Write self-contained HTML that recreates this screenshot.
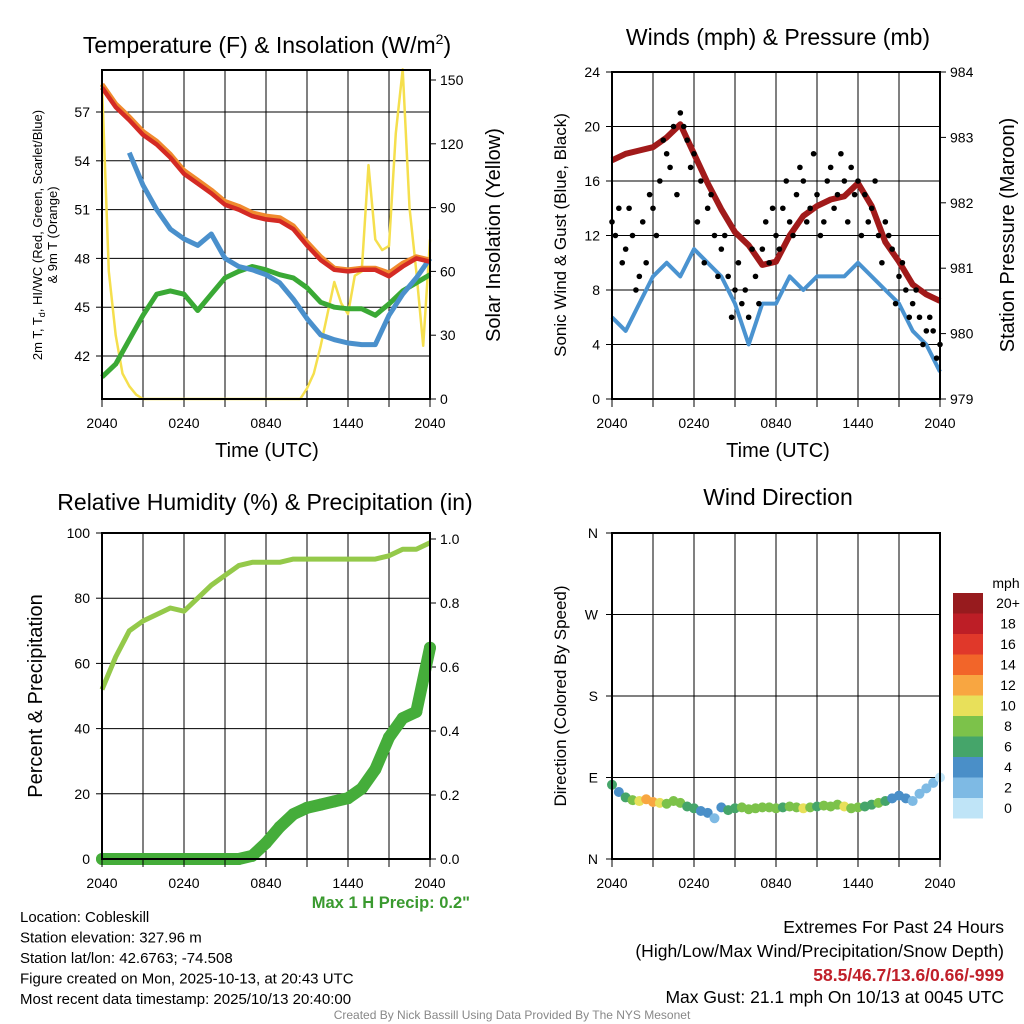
<!DOCTYPE html>
<html><head><meta charset="utf-8"><style>
html,body{margin:0;padding:0;background:#fff;}
svg{display:block;font-family:"Liberation Sans",sans-serif;}
</style></head><body>
<svg id="s" width="1024" height="1024" viewBox="0 0 1024 1024"></svg>
<script>
// ---------- DATA ----------
const hours = [0,1,2,3,4,5,6,7,8,9,10,11,12,13,14,15,16,17,18,19,20,21,22,23,24];
const halfHours = [0,0.5,1,1.5,2,2.5,3,3.5,4,4.5,5,5.5,6,6.5,7,7.5,8,8.5,9,9.5,10,10.5,11,11.5,12,12.5,13,13.5,14,14.5,15,15.5,16,16.5,17,17.5,18,18.5,19,19.5,20,20.5,21,21.5,22,22.5,23,23.5,24];
const timeTicks = ["2040","0240","0840","1440","2040"];
const tempTicks = [42,45,48,51,54,57];
const solarTicks = [0,30,60,90,120,150];
const tempRed = [58.5,57.3,56.5,55.6,55.0,54.2,53.2,52.6,52.0,51.3,51.0,50.6,50.4,50.3,49.8,48.8,47.9,47.3,47.2,47.3,47.3,46.9,47.5,48.0,47.8];
const tempOrange = [58.7,57.5,56.7,55.8,55.2,54.4,53.4,52.8,52.2,51.5,51.2,50.8,50.6,50.5,50.0,49.0,48.1,47.4,47.3,47.4,47.4,47.1,47.7,48.1,47.9];
const hiwcHours = [2,3,4,5,6,7,8,9,10,11,12,13,14,15,16,17,18,19,20,21,22,23,24];
const hiwcBlue = [54.5,52.5,51.0,49.8,49.2,48.8,49.5,48.0,47.5,47.3,47.0,46.5,45.5,44.3,43.3,43.0,42.8,42.7,42.7,44.5,45.8,46.8,48.0];
const dewGreen = [40.7,41.5,43.0,44.5,45.8,46.0,45.8,44.8,45.8,46.8,47.2,47.5,47.3,47.0,46.8,46.2,45.3,45.0,44.9,44.9,44.5,45.2,46.0,46.5,47.0];
const solar = [148,60,30,12,6,2,0,0,0,0,0,0,0,0,0,0,0,0,0,0,0,0,0,0,0,0,0,0,0,0,5,12,25,40,55,45,40,58,60,110,75,70,72,125,155,90,60,25,75];

const windTicks = [0,4,8,12,16,20,24];
const presTicks = [979,980,981,982,983,984];
const windBlue = [6,5,7,9,10,9,11,10,9,7,4,7,7,9,8,9,9,9,10,9,8,7,5,4,2];
const pressure = [982.65,982.75,982.8,982.85,983.0,983.2,982.75,982.3,981.9,981.55,981.35,981.05,981.1,981.5,981.8,981.95,982.05,982.1,982.3,981.95,981.4,981.1,980.75,980.6,980.5];
const gustA = [13,14,11,12,9,10,14,16,18,20,21,19,18,16,14,12,11,9,8,7,6,9,11,10,12,14,13,15,16,14,15,13,17,15,16,17,16,15,14,12,13,11,9,8,7,6,5,5,4];
const gustB = [12,10,14,8,13,15,12,19,17,15,20,17,13,10,15,9,12,6,10,8,11,7,13,14,11,16,12,17,13,18,12,16,14,18,13,15,12,13,16,10,12,7,10,6,8,4,6,3];

const rhTicks = [0,20,40,60,80,100];
const precipTicks = [0.0,0.2,0.4,0.6,0.8,1.0];
const rh = [52,62,70,73,75,77,76,80,84,87,90,91,91,91,92,92,92,92,92,92,92,93,95,95,97];
const precip = [0,0,0,0,0,0,0,0,0,0,0,0.01,0.05,0.10,0.14,0.16,0.17,0.18,0.19,0.22,0.28,0.38,0.44,0.46,0.66];

const dirLabels = ["N","E","S","W","N"];
const windDir = [82,74,68,65,64,66,63,62,61,64,62,58,56,53,51,45,57,54,56,57,55,56,57,57,56,57,58,57,56,57,58,59,58,60,58,56,57,58,60,62,64,67,70,67,64,72,78,84,90];
const windSpd = [6,4,6,8,10,12,13,10,9,8,8,7,6,5,4,3,5,6,7,8,9,8,8,9,8,7,8,9,10,8,7,8,8,9,10,9,8,7,6,8,6,4,5,4,3,2,3,2,1];
const legendLabels = ["20+","18","16","14","12","10","8","6","4","2","0"];
const legendColors = ["#971b1e","#bd1e26","#e0382a","#f26529","#f8a641","#e8e05a","#7cc24a","#45a56a","#4a8fc8","#7ebae4","#bfe4f7"];

// ---------- HELPERS ----------
const NS="http://www.w3.org/2000/svg";
const svg=document.getElementById('s');
function mk(tag,attrs,parent){const e=document.createElementNS(NS,tag);for(const k in attrs)e.setAttribute(k,attrs[k]);(parent||svg).appendChild(e);return e;}
function txt(x,y,s,size,anchor,extra,parent){const t=mk('text',Object.assign({x:x,y:y,'font-size':size,'text-anchor':anchor||'middle',fill:'#000'},extra||{}),parent);t.textContent=s;return t;}
function lin(d0,d1,r0,r1){return v=>r0+(v-d0)*(r1-r0)/(d1-d0);}
function pathOf(xs,ys,fx,fy){return xs.map((x,i)=>(i?'L':'M')+fx(x).toFixed(1)+','+fy(ys[i]).toFixed(1)).join('');}
function colorFor(s){const i=Math.min(10,Math.floor(s/2));return legendColors[10-i];}

function panel(x0,y0,x1,y1,name,yTicks,fy){
  const g=mk('g',{});
  
  
  const fx=lin(0,24,x0,x1);
  for(let h=3;h<24;h+=3){mk('line',{x1:fx(h),x2:fx(h),y1:y0,y2:y1,stroke:'#000','stroke-width':1},g);}
  yTicks.forEach(v=>{const y=fy(v);if(y>y0+1&&y<y1-1)mk('line',{x1:x0,x2:x1,y1:y,y2:y,stroke:'#000','stroke-width':1},g);});
  return {g,fx};
}
function frame(x0,y0,x1,y1,g){mk('rect',{x:x0,y:y0,width:x1-x0,height:y1-y0,fill:'none',stroke:'#000','stroke-width':2},g);}
function xAxis(x0,x1,y1,g){
  for(let h=0;h<=24;h+=3){const x=x0+h*(x1-x0)/24;mk('line',{x1:x,x2:x,y1:y1,y2:y1+8,stroke:'#000'},g);}
  timeTicks.forEach((t,i)=>{const x=x0+i*(x1-x0)/4;const e=txt(x,y1+29,t,14,'middle',{},g);});
}

// ---------- PANEL 1 ----------
{
const x0=102,x1=430,y0=70,y1=399;
const fy=lin(42,57,356,112), fs=lin(0,150,399,80);
const p=panel(x0,y0,x1,y1,'temperature-panel',tempTicks,fy);
const g=p.g, fx=p.fx;
tempTicks.forEach(v=>{mk('line',{x1:x0-6,x2:x0,y1:fy(v),y2:fy(v),stroke:'#000'},g);txt(x0-12,fy(v)+5,String(v),14,'end',{},g);});
solarTicks.forEach(v=>{mk('line',{x1:x1,x2:x1+6,y1:fs(v),y2:fs(v),stroke:'#000'},g);txt(x1+10,fs(v)+5,String(v),14,'start',{},g);});
const sp=mk('path',{d:pathOf(halfHours,solar,fx,fs),fill:'none',stroke:'#f5df4d','stroke-width':2.5,'stroke-linejoin':'round'},g);

const gp=mk('path',{d:pathOf(hours,dewGreen,fx,fy),fill:'none',stroke:'#3aa935','stroke-width':5,'stroke-linejoin':'round'},g);

const bp=mk('path',{d:pathOf(hiwcHours,hiwcBlue,fx,fy),fill:'none',stroke:'#4a90cc','stroke-width':5,'stroke-linejoin':'round'},g);

const op=mk('path',{d:pathOf(hours,tempOrange,fx,fy),fill:'none',stroke:'#f08a2e','stroke-width':5,'stroke-linejoin':'round'},g);

const rp=mk('path',{d:pathOf(hours,tempRed,fx,fy),fill:'none',stroke:'#d42a24','stroke-width':4.5,'stroke-linejoin':'round'},g);

frame(x0,y0,x1,y1,g);xAxis(x0,x1,y1,g);
const t=mk('text',{x:267,y:53,'font-size':23,'text-anchor':'middle'});t.innerHTML='Temperature (F) &amp; Insolation (W/m<tspan dy="-9" font-size="14">2</tspan><tspan dy="9">)</tspan>';

txt(267,457,'Time (UTC)',20);
const l=mk('text',{transform:'translate(42,235) rotate(-90)','font-size':13,'text-anchor':'middle'});l.innerHTML='2m T, T<tspan dy="3" font-size="9">d</tspan><tspan dy="-3">, HI/WC (Red, Green, Scarlet/Blue)</tspan>';

txt(0,0,'& 9m T (Orange)',13,'middle',{transform:'translate(57,235) rotate(-90)'});
txt(0,0,'Solar Insolation (Yellow)',20,'middle',{transform:'translate(500,235) rotate(-90)'});
}

// ---------- PANEL 2 ----------
{
const x0=612,x1=940,y0=72,y1=399;
const fy=lin(0,24,399,72), fp=lin(979,984,399,72);
const p=panel(x0,y0,x1,y1,'wind-pressure-panel',windTicks,fy);
const g=p.g, fx=p.fx;
windTicks.forEach(v=>{mk('line',{x1:x0-6,x2:x0,y1:fy(v),y2:fy(v),stroke:'#000'},g);txt(x0-12,fy(v)+5,String(v),14,'end',{},g);});
presTicks.forEach(v=>{mk('line',{x1:x1,x2:x1+6,y1:fp(v),y2:fp(v),stroke:'#000'},g);txt(x1+10,fp(v)+5,String(v),14,'start',{},g);});
const wb=mk('path',{d:pathOf(hours,windBlue,fx,fy),fill:'none',stroke:'#4a93d0','stroke-width':4,'stroke-linejoin':'round'},g);

const pr=mk('path',{d:pathOf(hours,pressure,fx,fp),fill:'none',stroke:'#a11a1a','stroke-width':6,'stroke-linejoin':'round'},g);

gustA.forEach((v,i)=>{const c=mk('circle',{cx:fx(halfHours[i]),cy:fy(v),r:2.8,fill:'#000'},g);});
gustB.forEach((v,i)=>{const c=mk('circle',{cx:fx(halfHours[i]+0.25),cy:fy(v),r:2.8,fill:'#000'},g);});
frame(x0,y0,x1,y1,g);xAxis(x0,x1,y1,g);
txt(778,45,'Winds (mph) & Pressure (mb)',23);
txt(778,457,'Time (UTC)',20);
txt(0,0,'Sonic Wind & Gust (Blue, Black)',17,'middle',{transform:'translate(566,235) rotate(-90)'});
txt(0,0,'Station Pressure (Maroon)',20,'middle',{transform:'translate(1014,235) rotate(-90)'});
}

// ---------- PANEL 3 ----------
{
const x0=102,x1=430,y0=533,y1=859;
const fy=lin(0,100,859,533), fq=lin(0,1,859,539);
const p=panel(x0,y0,x1,y1,'humidity-precip-panel',rhTicks,fy);
const g=p.g, fx=p.fx;
rhTicks.forEach(v=>{mk('line',{x1:x0-6,x2:x0,y1:fy(v),y2:fy(v),stroke:'#000'},g);txt(x0-12,fy(v)+5,String(v),14,'end',{},g);});
precipTicks.forEach(v=>{mk('line',{x1:x1,x2:x1+6,y1:fq(v),y2:fq(v),stroke:'#000'},g);txt(x1+10,fq(v)+5,v.toFixed(1),14,'start',{},g);});
const rl=mk('path',{d:pathOf(hours,rh,fx,fy),fill:'none',stroke:'#94c94a','stroke-width':5,'stroke-linejoin':'round'},g);

const pl=mk('path',{d:pathOf(hours,precip,fx,fq),fill:'none',stroke:'#45ad3a','stroke-width':12,'stroke-linejoin':'round','stroke-linecap':'round'},g);

precip.forEach((v,i)=>{const c=mk('circle',{cx:fx(hours[i]),cy:fq(v),r:6,fill:'#45ad3a'},g);});
frame(x0,y0,x1,y1,g);xAxis(x0,x1,y1,g);
txt(265,510,'Relative Humidity (%) & Precipitation (in)',23);
txt(0,0,'Percent & Precipitation',20,'middle',{transform:'translate(42,696) rotate(-90)'});
txt(470,908,'Max 1 H Precip: 0.2"',16.5,'end',{fill:'#3a9a2f','font-weight':'bold'});
}

// ---------- PANEL 4 ----------
{
const x0=612,x1=940,y0=533,y1=859;
const fd=lin(0,360,859,533);
const dTicks=[0,90,180,270,360];
const p=panel(x0,y0,x1,y1,'wind-direction-panel',dTicks,fd);
const g=p.g, fx=p.fx;
dTicks.forEach((v,i)=>{mk('line',{x1:x0-6,x2:x0,y1:fd(v),y2:fd(v),stroke:'#000'},g);txt(x0-14,fd(v)+5,dirLabels[i],14,'end',{},g);});
windDir.forEach((v,i)=>{const c=mk('circle',{cx:fx(halfHours[i]),cy:fd(v),r:5,fill:colorFor(windSpd[i])},g);});
frame(x0,y0,x1,y1,g);xAxis(x0,x1,y1,g);
txt(778,505,'Wind Direction',23);
txt(0,0,'Direction (Colored By Speed)',17,'middle',{transform:'translate(566,696) rotate(-90)'});
const lg=mk('g',{});
txt(1006,588,'mph',14,'middle',{},lg);
legendLabels.forEach((s,i)=>{const y=593+i*20.5;mk('rect',{x:953,y:y,width:30,height:20.5,fill:legendColors[i]},lg);txt(1008,y+15,s,14,'middle',{},lg);});
}

// ---------- FOOTER TEXT ----------
const info=["Location: Cobleskill","Station elevation: 327.96 m","Station lat/lon: 42.6763; -74.508","Figure created on Mon, 2025-10-13, at 20:43 UTC","Most recent data timestamp: 2025/10/13 20:40:00"];
info.forEach((s,i)=>{const e=txt(20,922+i*20.5,s,15,'start');});
txt(1004,933,'Extremes For Past 24 Hours',17.5,'end');
txt(1004,957,'(High/Low/Max Wind/Precipitation/Snow Depth)',17.5,'end');
txt(1004,981,'58.5/46.7/13.6/0.66/-999',17.5,'end',{fill:'#c0202a','font-weight':'bold'});
txt(1004,1003,'Max Gust: 21.1 mph On 10/13 at 0045 UTC',17.5,'end');
txt(512,1019,'Created By Nick Bassill Using Data Provided By The NYS Mesonet',12,'middle',{fill:'#888'});
</script>
</body></html>
